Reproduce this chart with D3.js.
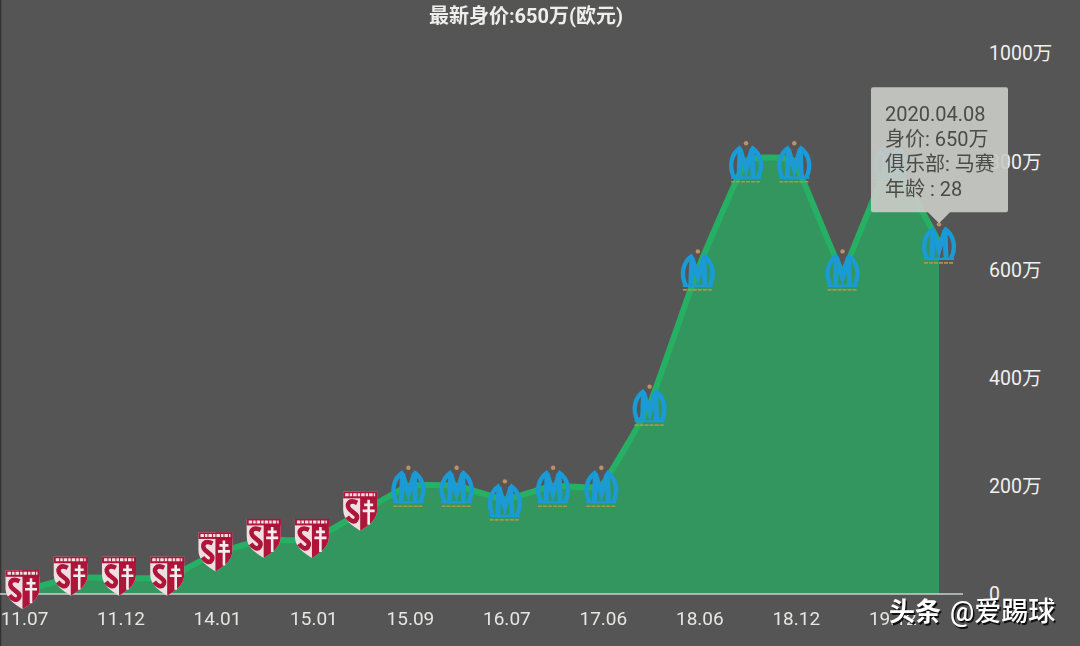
<!DOCTYPE html>
<html><head><meta charset="utf-8">
<script src="https://cdn.jsdelivr.net/npm/d3@7"></script>
<style>
html,body{margin:0;padding:0;background:#555}
svg{display:block}
text{font-family:Roboto,"Noto Sans CJK SC",sans-serif}
</style></head><body>
<svg id="c" width="1080" height="646"></svg>
<script>
const categories=["11.07","11.09","11.12","12.07","14.01","14.07","15.01","15.06","15.09","16.01","16.07","17.01","17.06","17.11","18.06","18.09","18.12","19.06","19.12","20.04"];
const values=[5,30,30,30,75,100,100,150,200,200,175,200,200,350,600,800,800,600,800,650];
const clubs=["metz","metz","metz","metz","metz","metz","metz","metz","om","om","om","om","om","om","om","om","om","om","om","om"];
const xTicks=["11.07","11.12","14.01","15.01","15.09","16.07","17.06","18.06","18.12","19.12"];
const yTicks=[0,200,400,600,800,1000];
const titleText=["最新身价:650万(欧元)"];
const tipLines=["2020.04.08","身价: 650万","俱乐部: 马赛","年龄 : 28"];

const svg=d3.select("#c");
const x=d3.scalePoint().domain(categories).range([22.5,939]);
const y=d3.scaleLinear().domain([0,1000]).range([594,53]);
const pts=categories.map((c,i)=>({c,v:values[i],club:clubs[i]}));

svg.append("rect").attr("width",1080).attr("height",646).attr("fill","#555555");
svg.append("line").attr("x1",0.5).attr("x2",0.5).attr("y1",0).attr("y2",646).attr("stroke","#333").attr("stroke-width",1.5);

const defs=svg.append("defs");
defs.append("filter").attr("id","soft").append("feGaussianBlur").attr("stdDeviation",0.6);

const curve=d3.curveCardinal.tension(0.72);
svg.append("path").datum(pts).attr("fill","#33965f")
  .attr("d",d3.area().x(d=>x(d.c)).y0(y(0)).y1(d=>y(d.v)).curve(curve));
svg.append("path").datum(pts).attr("fill","none").attr("stroke","#26b064").attr("stroke-width",6).attr("stroke-linejoin","round")
  .attr("d",d3.line().x(d=>x(d.c)).y(d=>y(d.v)).curve(curve));

// baseline
svg.append("line").attr("x1",0).attr("x2",963).attr("y1",y(0)).attr("y2",y(0)).attr("stroke","#c6d2ce").attr("stroke-width",1.6);

// Metz badge symbol
const metz=defs.append("g").attr("id","metz");
const shield="M-17,-21H17V-3C17,7 8,13 0,18C-8,13 -17,7 -17,-3Z";
metz.append("path").attr("d",shield).attr("fill","#f0dfe2");
metz.append("path").attr("d","M0,-21H17V-3C17,7 8,13 0,18Z").attr("fill","#ad1239");
metz.append("rect").attr("x",-17).attr("y",-21).attr("width",34).attr("height",6.5).attr("fill","#ad1239");
metz.append("path").attr("d","M-15,-18H15").attr("stroke","#f3dfe2").attr("stroke-width",3).attr("stroke-dasharray","3.5 1 2.5 1");
metz.append("path").attr("d","M-3,-10C-11,-14 -15,-8 -10,-3C-6,1 -1,2 -4,7C-6,10 -10,8 -13,4").attr("fill","none").attr("stroke","#ad1239").attr("stroke-width",4.6);
metz.append("path").attr("d","M8.5,-13V12M4,-8H13M2.5,-2H14.5").attr("fill","none").attr("stroke","#f6ecee").attr("stroke-width",2.6);

// Marseille badge symbol
const om=defs.append("g").attr("id","om");
om.append("path").attr("d","M-5,-14C-16,-7 -17,6 -12,16M5,-14C16,-7 17,6 12,16").attr("fill","none").attr("stroke","#1a9ad6").attr("stroke-width",4.4);
om.append("path").attr("d","M-7,16L-6,-12L0,8L6,-12L7,16").attr("fill","none").attr("stroke","#1a9ad6").attr("stroke-width",5);
om.append("path").attr("d","M-15,16.5H15").attr("stroke","#1a9ad6").attr("stroke-width",2.4);
om.append("circle").attr("cy",-18).attr("r",2.2).attr("fill","#c58f66");
om.append("path").attr("d","M-15,20.5H15").attr("stroke","#a8974c").attr("stroke-width",1.6).attr("stroke-dasharray","4 1");

svg.append("g").attr("filter","url(#soft)").selectAll("use").data(pts).join("use")
  .attr("href",d=>"#"+d.club)
  .attr("transform",d=>`translate(${x(d.c)},${y(d.v)})`);

// y axis
const yAxis=d3.axisRight(y).tickValues(yTicks).tickSize(0).tickPadding(0).tickFormat(d=>d===0?"0":d+"万");
const gy=svg.append("g").attr("transform","translate(989,0)").call(yAxis);
gy.select(".domain").remove();
gy.selectAll("text").attr("fill","#f0f0ee").attr("font-size",19.5).attr("dy","0.35em");

// x axis
const xAxis=d3.axisBottom(x).tickValues(xTicks).tickSize(0).tickPadding(0).tickFormat(d=>d);
const gx=svg.append("g").attr("transform","translate(1.5,612)").call(xAxis);
gx.select(".domain").remove();
gx.selectAll("text").attr("fill","#e6e6e4").attr("font-size",19).attr("dy","0.7em");

// title
svg.append("text").data(titleText).attr("x",526).attr("y",23).attr("text-anchor","middle")
  .attr("fill","#eeeeec").attr("font-size",20).attr("font-weight",700).text(d=>d);

// tooltip, anchored on the last point
const last=pts[pts.length-1];
const tx=x(last.c),ty=y(last.v);
const p=d3.path();
const L=tx-68,R=tx+69,T=ty-155,B=ty-30,r=2;
p.moveTo(L+r,T);p.lineTo(R-r,T);p.quadraticCurveTo(R,T,R,T+r);p.lineTo(R,B-r);p.quadraticCurveTo(R,B,R-r,B);
p.lineTo(tx+11,B);p.lineTo(tx,ty-19);p.lineTo(tx-11,B);p.lineTo(L+r,B);p.quadraticCurveTo(L,B,L,B-r);p.lineTo(L,T+r);p.quadraticCurveTo(L,T,L+r,T);p.closePath();
svg.append("path").attr("d",p.toString()).attr("fill","#c9cbc5").attr("fill-opacity",0.92);
svg.append("g").selectAll("text").data(tipLines).join("text")
  .attr("x",L+14).attr("y",(d,i)=>T+34+i*25).attr("fill","#4b4b49").attr("font-size",20).text(d=>d);

// watermark
const wm=[["头条",889,621,26,700],["@爱踢球",950,621,27,500]];
const wg=svg.append("g");
wm.forEach(w=>{
  wg.append("text").attr("x",w[1]+1.5).attr("y",w[2]+1.5).attr("font-size",w[3]).attr("font-weight",w[4]).attr("fill","#111").text(w[0]);
  wg.append("text").attr("x",w[1]).attr("y",w[2]).attr("font-size",w[3]).attr("font-weight",w[4]).attr("fill","#fff").text(w[0]);
});
</script>
</body></html>
